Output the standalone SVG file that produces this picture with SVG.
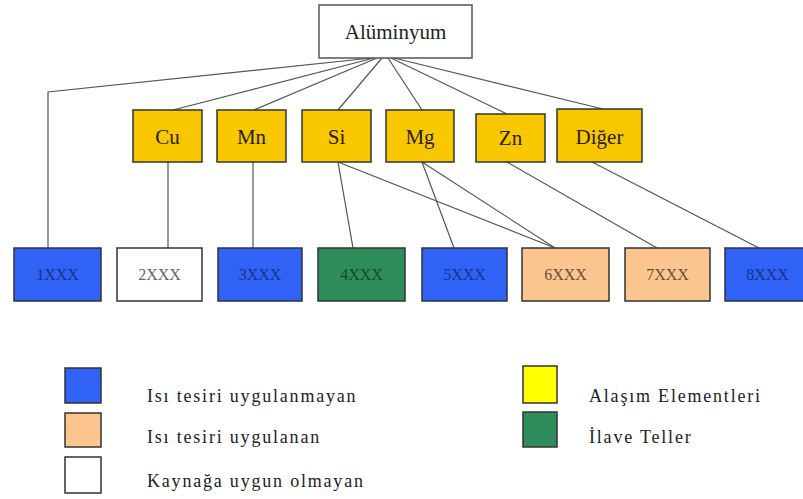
<svg xmlns="http://www.w3.org/2000/svg" width="803" height="499" viewBox="0 0 803 499">
<style>
text{font-family:"Liberation Serif","Times New Roman",serif;text-anchor:middle}
.box{stroke:#333;stroke-width:1.5}
.root{fill:#fff;stroke:#555;stroke-width:1.5}
.elem{fill:#F9C700}
.blue{fill:#2F62F5}
.white{fill:#fff}
.green{fill:#2E8B5A}
.peach{fill:#FBC590}
.lbl{font-size:21px;fill:#2a1f00}
.code{font-size:16px}
.cblue{fill:#1A338A}
.cgray{fill:#666}
.cgreen{fill:#154A2C}
.cpeach{fill:#6A5040}
.leg{font-size:18px;fill:#222;text-anchor:start;letter-spacing:1.8px}
#connectors path{fill:none;stroke:#555;stroke-width:1.2}
</style>
<rect width="803" height="499" fill="#fff"/>
<g id="connectors">
<path d="M372 58 L48 92 L48 248"/>
<path d="M374 58 L173 110"/>
<path d="M377 58 L254 110"/>
<path d="M382 58 L338 110"/>
<path d="M388 58 L422 110"/>
<path d="M391 58 L507 114"/>
<path d="M394 58 L603 109"/>
<path d="M168 162 L168 248"/>
<path d="M253 162 L253 248"/>
<path d="M338 162 L353 248"/>
<path d="M338 162 L555 248"/>
<path d="M422 162 L454 248"/>
<path d="M422 162 L555 248"/>
<path d="M507 162 L657 248"/>
<path d="M592 162 L759 248"/>
</g>
<g id="aluminyum"><rect class="root" x="319" y="5" width="153" height="53"/><text x="395.5" y="39" font-size="21" fill="#222">Alüminyum</text></g>
<g id="cu"><rect class="box elem" x="133" y="110" width="69" height="52"/><text class="lbl" x="167.5" y="144">Cu</text></g>
<g id="mn"><rect class="box elem" x="217" y="110" width="69" height="52"/><text class="lbl" x="251.5" y="144">Mn</text></g>
<g id="si"><rect class="box elem" x="302" y="110" width="69" height="52"/><text class="lbl" x="336.5" y="144">Si</text></g>
<g id="mg"><rect class="box elem" x="386" y="110" width="68" height="52"/><text class="lbl" x="420" y="144">Mg</text></g>
<g id="zn"><rect class="box elem" x="476" y="114" width="69" height="48"/><text class="lbl" x="510.5" y="145">Zn</text></g>
<g id="diger"><rect class="box elem" x="557" y="109" width="85" height="53"/><text class="lbl" x="599.5" y="144">Diğer</text></g>
<g id="n1xxx"><rect class="box blue" x="14" y="248" width="87" height="53"/><text class="code cblue" x="57.5" y="280">1XXX</text></g>
<g id="n2xxx"><rect class="box white" x="117" y="248" width="85" height="53"/><text class="code cgray" x="159.5" y="280">2XXX</text></g>
<g id="n3xxx"><rect class="box blue" x="218" y="248" width="84" height="53"/><text class="code cblue" x="260" y="280">3XXX</text></g>
<g id="n4xxx"><rect class="box green" x="318" y="248" width="87" height="53"/><text class="code cgreen" x="361.5" y="280">4XXX</text></g>
<g id="n5xxx"><rect class="box blue" x="422" y="248" width="85" height="53"/><text class="code cblue" x="464.5" y="280">5XXX</text></g>
<g id="n6xxx"><rect class="box peach" x="522" y="248" width="87" height="53"/><text class="code cpeach" x="565.5" y="280">6XXX</text></g>
<g id="n7xxx"><rect class="box peach" x="625" y="248" width="85" height="53"/><text class="code cpeach" x="667.5" y="280">7XXX</text></g>
<g id="n8xxx"><rect class="box blue" x="725" y="248" width="87" height="53"/><text class="code cblue" x="767.5" y="280">8XXX</text></g>
<g id="legend">
<rect class="box blue" x="65" y="368" width="36" height="35"/><text class="leg" x="147" y="402">Isı tesiri uygulanmayan</text>
<rect class="box peach" x="65" y="413" width="36" height="34"/><text class="leg" x="147" y="443">Isı tesiri uygulanan</text>
<rect class="box white" x="65" y="457" width="36" height="36"/><text class="leg" x="147" y="487">Kaynağa uygun olmayan</text>
<rect class="box" fill="#FFFF00" x="523" y="366" width="34" height="37"/><text class="leg" x="589" y="402">Alaşım Elementleri</text>
<rect class="box green" x="523" y="412" width="34" height="35"/><text class="leg" x="589" y="443">İlave Teller</text>
</g>
</svg>
